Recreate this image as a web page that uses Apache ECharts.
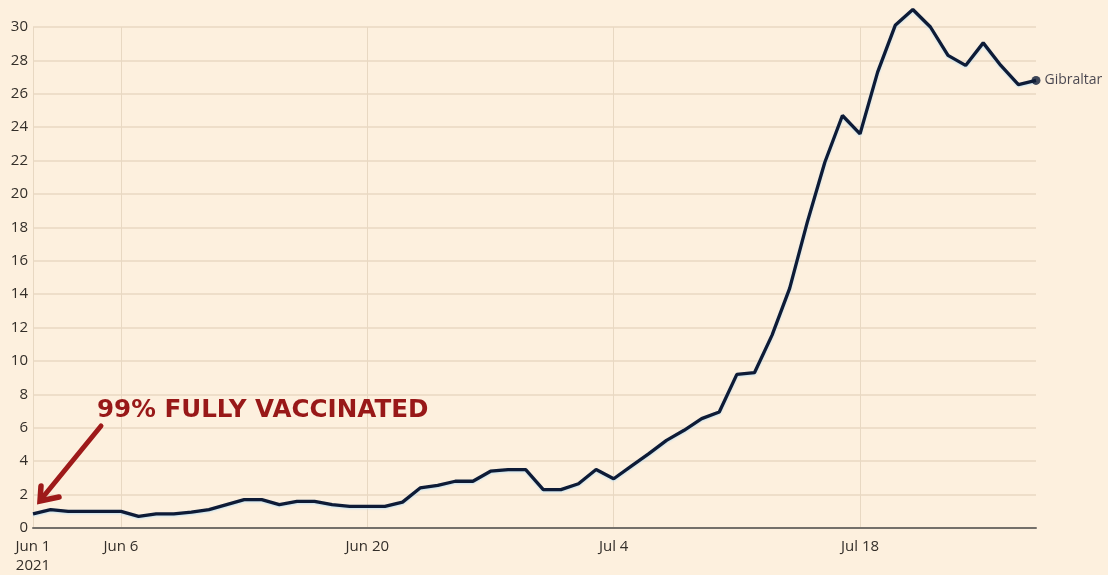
<!DOCTYPE html>
<html>
<head>
<meta charset="utf-8">
<script src="https://cdn.jsdelivr.net/npm/echarts@6/dist/echarts.min.js"></script>
<style>
html,body{margin:0;padding:0;background:#fdf0de;}
#chart{width:1108px;height:575px;}
</style>
</head>
<body>
<div id="chart"></div>
<script>
var dates = ['Jun 1','Jun 2','Jun 3','Jun 4','Jun 5','Jun 6','Jun 7','Jun 8','Jun 9','Jun 10',
  'Jun 11','Jun 12','Jun 13','Jun 14','Jun 15','Jun 16','Jun 17','Jun 18','Jun 19','Jun 20',
  'Jun 21','Jun 22','Jun 23','Jun 24','Jun 25','Jun 26','Jun 27','Jun 28','Jun 29','Jun 30',
  'Jul 1','Jul 2','Jul 3','Jul 4','Jul 5','Jul 6','Jul 7','Jul 8','Jul 9','Jul 10',
  'Jul 11','Jul 12','Jul 13','Jul 14','Jul 15','Jul 16','Jul 17','Jul 18','Jul 19','Jul 20',
  'Jul 21','Jul 22','Jul 23','Jul 24','Jul 25','Jul 26','Jul 27','Jul 28'];
var gibraltar = [0.85,1.1,1.0,1.0,1.0,1.0,0.7,0.85,0.85,0.95,
  1.1,1.4,1.7,1.7,1.4,1.6,1.6,1.4,1.3,1.3,
  1.3,1.55,2.4,2.55,2.8,2.8,3.4,3.5,3.5,2.3,
  2.3,2.65,3.5,2.95,3.7,4.45,5.25,5.85,6.55,6.95,
  9.2,9.3,11.55,14.35,18.3,21.9,24.7,23.6,27.3,30.1,
  31.05,30.0,28.3,27.7,29.05,27.7,26.55,26.8];
var tickDates = ['Jun 1','Jun 6','Jun 20','Jul 4','Jul 18'];
var tickLabels = ['Jun 1\n2021','Jun 6','Jun 20','Jul 4','Jul 18'];
var seriesName = 'Gibraltar';
var annotationText = '99% FULLY VACCINATED';

var chart = echarts.init(document.getElementById('chart'));
var lastIdx = gibraltar.length - 1;
var font = 'Open Sans';
chart.setOption({
  backgroundColor: '#fdf0de',
  animation: false,
  grid: {left: 33, right: 72, top: 27, bottom: 45, containLabel: false},
  xAxis: {
    type: 'category',
    data: dates,
    boundaryGap: false,
    axisLine: {show: true, lineStyle: {color: '#74706a', width: 2}},
    axisTick: {show: false},
    axisLabel: {
      interval: function (i, v) { return tickDates.indexOf(v) >= 0; },
      formatter: function (v) { return tickLabels[tickDates.indexOf(v)]; },
      color: '#332e29', fontSize: 15, fontFamily: font, margin: 9, lineHeight: 19,
      showMinLabel: true
    },
    splitLine: {
      show: true,
      interval: function (i, v) { return tickDates.indexOf(v) >= 0; },
      lineStyle: {color: '#e8d8c2', width: 1}
    }
  },
  yAxis: {
    type: 'value', min: 0, max: 30, interval: 2,
    axisLine: {show: false}, axisTick: {show: false},
    axisLabel: {color: '#332e29', fontSize: 15, fontFamily: font, margin: 5},
    splitLine: {lineStyle: {color: '#e8d8c2', width: 1.5}}
  },
  series: [{
    type: 'line', name: seriesName, data: gibraltar, clip: false,
    showSymbol: false, symbol: 'none',
    lineStyle: {color: '#0e1b36', width: 3.3, shadowColor: 'rgba(190,225,245,0.9)', shadowBlur: 2, shadowOffsetY: 1},
    z: 3
  }, {
    type: 'scatter', name: seriesName,
    data: [[dates[lastIdx], gibraltar[lastIdx]]],
    symbolSize: 9, itemStyle: {color: '#0e1b36'},
    label: {show: true, position: 'right', distance: 4, formatter: seriesName,
      color: '#1a1a2a', fontSize: 14, fontFamily: font},
    z: 4
  }],
  graphic: [{
    type: 'text', x: 97, y: 411, z: 100,
    style: {text: annotationText, fill: '#981818', textVerticalAlign: 'middle',
      font: 'bold 24.6px "DejaVu Sans", sans-serif'}
  }, {
    type: 'line', z: 100, shape: {x1: 101, y1: 426, x2: 43, y2: 497},
    style: {stroke: '#9e1a1a', lineWidth: 5, lineCap: 'round'}
  }, {
    type: 'polyline', z: 100, shape: {points: [[41, 486], [40, 501], [59, 497]]},
    style: {stroke: '#9e1a1a', lineWidth: 5.5, lineCap: 'round', lineJoin: 'miter', fill: null}
  }]
});
</script>
</body>
</html>
